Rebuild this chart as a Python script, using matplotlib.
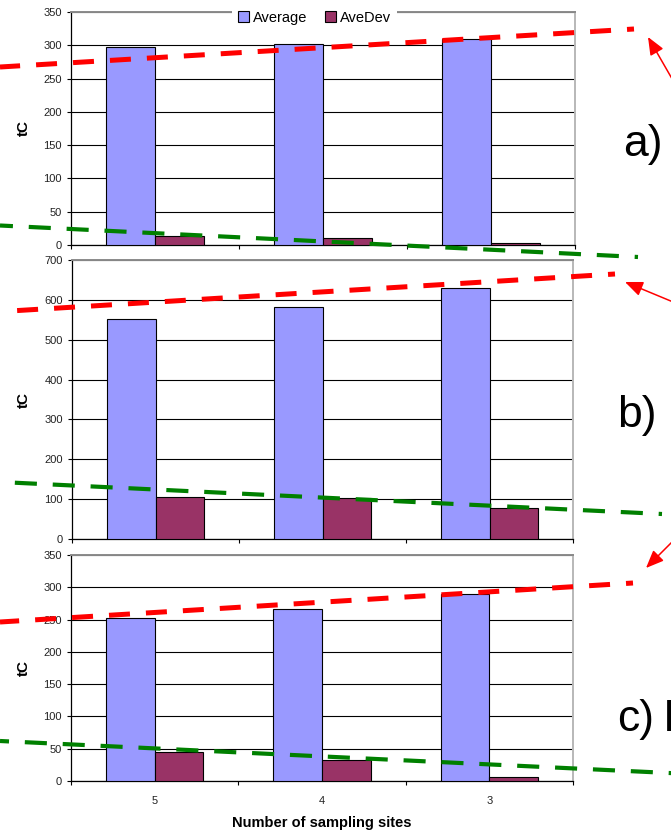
import matplotlib
matplotlib.use('Agg')
import matplotlib.pyplot as plt
import numpy as np

plt.rcParams['font.family'] = ['Liberation Sans', 'DejaVu Sans']

# ---------------- data ----------------
categories = ['5', '4', '3']
series_names = ['Average', 'AveDev']

avg_a = [297, 302, 309]
dev_a = [14, 10.5, 3.5]

avg_b = [552, 583, 630]
dev_b = [106, 104, 77]

avg_c = [252, 267, 289]
dev_c = [44.5, 32, 5.5]

y_max = [350, 700, 350]
y_step = [50, 100, 50]

panel_labels = ['a)', 'b)', 'c)']

# annotation overlay geometry (figure pixels)
red_lines = [((0, 67), (634, 29)), ((10, 311), (615, 274)), ((0, 622), (633, 583))]
green_lines = [((0, 225.5), (638, 257)), ((0, 482), (662, 514)), ((0, 741), (690, 774))]
arrows = [((690, 110), (648, 37)), ((690, 309), (625, 282)), ((690, 524), (646, 568))]

# ---------------- figure ----------------
W, H = 671, 830
fig = plt.figure(figsize=(W / 100, H / 100), dpi=100)

boxes = [(71, 12, 575, 245), (72, 260, 573, 539), (71, 555, 573, 781)]
avgs = [avg_a, avg_b, avg_c]
devs = [dev_a, dev_b, dev_c]

AVG_COLOR = '#9999FF'
DEV_COLOR = '#993366'
bw = 0.29

axes = []
for i in range(3):
    l, t, r, b = boxes[i]
    ax = fig.add_axes([l / W, 1 - b / H, (r - l) / W, (b - t) / H])
    axes.append(ax)
    x = np.arange(len(categories))
    ax.bar(x - bw / 2, avgs[i], bw, color=AVG_COLOR, edgecolor='black', linewidth=0.8,
           label=series_names[0], zorder=3)
    ax.bar(x + bw / 2, devs[i], bw, color=DEV_COLOR, edgecolor='black', linewidth=0.8,
           label=series_names[1], zorder=3)
    ax.set_xlim(-0.5, len(categories) - 0.5)
    ax.set_ylim(0, y_max[i])
    ax.set_yticks(np.arange(0, y_max[i] + 1, y_step[i]))
    ax.yaxis.grid(True, color='black', linewidth=0.8)
    ax.set_axisbelow(True)

    ax.set_xticks(x)
    ax.set_xticks(np.arange(-0.5, len(categories), 1.0), minor=True)
    if i == 2:
        ax.set_xticklabels(categories)
    else:
        ax.set_xticklabels([])
    ax.tick_params(axis='x', which='major', length=0, pad=11, labelsize=8,
                   labelcolor='#222222')
    ax.tick_params(axis='x', which='minor', length=3, width=0.8, direction='out', color='black')
    ax.tick_params(axis='y', length=3, width=0.8, direction='out', pad=3.5, labelsize=8,
                   labelcolor='#222222')

    for s in ['left', 'bottom']:
        ax.spines[s].set_color('black')
        ax.spines[s].set_linewidth(0.9)
    ax.spines['top'].set_color('#8a8a8a')
    ax.spines['top'].set_linewidth(1.4)
    ax.spines['right'].set_color('#b8b8b8')
    ax.spines['right'].set_linewidth(1.4)

    ax.set_ylabel('tC', fontsize=11, fontweight='bold')
    ax.yaxis.label.set_va('center')
    ax.yaxis.set_label_coords((23.5 - l) / (r - l), 0.5)

    if i == 2:
        ax.set_xlabel('Number of sampling sites', fontsize=10.5, fontweight='bold')
        ax.xaxis.label.set_va('center')
        ax.xaxis.set_label_coords(0.5, -(823 - b) / (b - t))

# legend in first panel
leg = axes[0].legend(loc='center', bbox_to_anchor=(0.483, 0.976), ncol=2, fontsize=10.5,
                     frameon=True, fancybox=False, edgecolor='none', facecolor='white',
                     framealpha=1, handlelength=0.75, handleheight=0.75, handletextpad=0.3,
                     columnspacing=1.2, borderpad=0.4, borderaxespad=0)

# ---------------- overlay annotations ----------------
ov = fig.add_axes([0, 0, 1, 1], zorder=10)
ov.set_xlim(0, W)
ov.set_ylim(H, 0)
ov.axis('off')
ov.patch.set_alpha(0)

for (p0, p1) in red_lines:
    ov.plot([p1[0], p0[0]], [p1[1], p0[1]], color='#FF0000', linewidth=3.6,
            linestyle=(2.8, (4.2, 3.2)), dash_capstyle='butt', clip_on=False)
for (p0, p1) in green_lines:
    ov.plot([p1[0], p0[0]], [p1[1], p0[1]], color='#008000', linewidth=3.0,
            linestyle=(4.5, (5.3, 3.8)), dash_capstyle='butt', clip_on=False)
for (tail, head) in arrows:
    ov.annotate('', xy=head, xytext=tail, xycoords='data', textcoords='data',
                annotation_clip=False,
                arrowprops=dict(arrowstyle='-|>,head_length=0.6,head_width=0.25',
                                color='#FF0000', lw=1.1, mutation_scale=18,
                                shrinkA=0, shrinkB=0))

ov.text(623.5, 156, panel_labels[0], fontsize=32, ha='left', va='baseline')
ov.text(617.5, 427, panel_labels[1], fontsize=32, ha='left', va='baseline')
ov.text(617.6, 731, panel_labels[2], fontsize=32, ha='left', va='baseline')
ov.text(662.8, 731, 'I', fontsize=32, ha='left', va='baseline', clip_on=False)

fig.savefig('out.png', dpi=100)
